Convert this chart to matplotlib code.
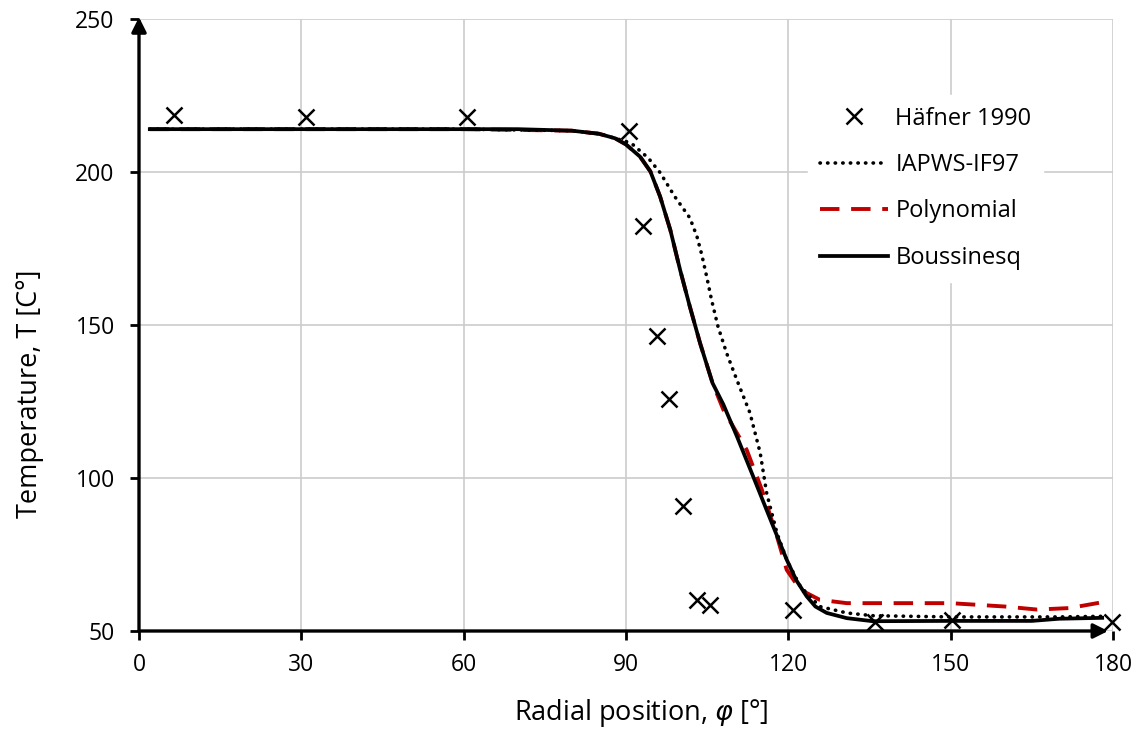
import matplotlib
matplotlib.use("Agg")
import matplotlib.pyplot as plt

# Häfner 1990 measurements
hafner_x = [6.4, 30.8, 60.6, 90.6, 93.1, 95.7, 98.0, 100.5, 103.1, 105.5, 120.8, 136.1, 150.3, 179.9]
hafner_T = [218.7, 218.1, 218.1, 213.5, 182.2, 146.3, 125.9, 90.7, 60.2, 58.4, 56.7, 52.8, 53.6, 53.0]

# IAPWS-IF97
iapws_x = [2, 30, 60, 80, 85, 88, 90, 91.3, 94.1, 96.3, 99, 101.8, 103.1, 104, 104.9, 105.8, 107,
           108.6, 110.5, 112.9, 114.8, 116, 117.9, 119.7, 122.2, 125.8, 130.8, 135.6, 150, 170, 178]
iapws_T = [214, 214, 214, 213.5, 212.5, 211, 210, 208.9, 204.6, 199.8, 192, 185, 179, 173, 165.9,
           158.3, 149.5, 140.8, 132, 121.3, 108.2, 95, 82, 73.3, 64.6, 58, 55.9, 55, 54.6, 54.6, 54.8]

# Polynomial
poly_x = [2, 30, 60, 80, 85, 88, 90, 92.6, 94.5, 96.3, 98.2, 100, 101.8, 103.7, 106, 108, 112.3,
          115.1, 117.9, 119.7, 122.2, 125.8, 130.8, 150, 160, 166, 172, 178]
poly_T = [214, 214, 214, 213.5, 212.5, 211, 209, 205, 200.2, 192, 181, 168, 156, 144, 131, 122.3,
          109.2, 96.2, 80.9, 70, 63.5, 60.2, 59.1, 59.1, 58, 57, 57.5, 59.4]

# Boussinesq
bous_x = [2, 10, 30, 50, 70, 80, 85, 88, 90, 92.6, 94.5, 96.3, 98.2, 100, 101.8, 103.7, 106, 108,
          110.5, 113.5, 117.2, 119.7, 121.5, 123.4, 125, 127.1, 130.8, 135.6, 150, 165, 170, 178]
bous_T = [214, 214, 214, 214, 214, 213.5, 212.5, 211, 209, 205, 200.2, 192, 181, 168, 156, 144,
          131, 124, 113.6, 100.5, 84.2, 73.3, 66.5, 61.3, 58, 55.9, 54.2, 53.2, 53.3, 53.3, 54.0, 54.3]

x_ticks = [0, 30, 60, 90, 120, 150, 180]
y_ticks = [50, 100, 150, 200, 250]

plt.rcParams['font.family'] = ['Open Sans', 'DejaVu Sans']
plt.rcParams['mathtext.fontset'] = 'dejavusans'

fig = plt.figure(figsize=(11.46, 7.32), dpi=100)
ax = fig.add_axes([139/1146, 1 - 631/732, (1113 - 139)/1146, (631 - 19)/732])

ax.plot(hafner_x, hafner_T, linestyle='none', marker='x', color='black',
        markersize=11, markeredgewidth=1.8, label='Häfner 1990', zorder=5, clip_on=False)
ax.plot(poly_x, poly_T, color='#C00000', lw=2.8, dashes=(5, 3), label='Polynomial', zorder=3)
ax.plot(iapws_x, iapws_T, color='black', lw=2.6, linestyle=(0, (0.1, 2.0)),
        dash_capstyle='round', label='IAPWS-IF97', zorder=3.5)
ax.plot(bous_x, bous_T, color='black', lw=2.7, label='Boussinesq', zorder=4)

ax.set_xlim(0, 180)
ax.set_ylim(50, 250)
ax.set_xticks(x_ticks)
ax.set_yticks(y_ticks)
ax.grid(True, color='#CCCCCC', lw=1.2, zorder=0)
ax.set_axisbelow(True)

for s in ['top', 'right', 'left', 'bottom']:
    ax.spines[s].set_visible(False)

ax.annotate('', xy=(0, 1.003), xytext=(0, 0), xycoords='axes fraction',
            arrowprops=dict(arrowstyle='-|>', lw=2.4, color='black', mutation_scale=22,
                            shrinkA=0, shrinkB=0), zorder=6)
ax.annotate('', xy=(0.995, 0), xytext=(0, 0), xycoords='axes fraction',
            arrowprops=dict(arrowstyle='-|>', lw=2.4, color='black', mutation_scale=22,
                            shrinkA=0, shrinkB=0), zorder=6)

ax.tick_params(axis='both', direction='out', length=6.5, width=2, color='black',
               labelsize=16.5)
ax.tick_params(axis='y', pad=11)
ax.tick_params(axis='x', pad=9)

ax.set_xlabel(r'Radial position, $\varphi$ [°]', fontsize=19.5)
ax.set_ylabel('Temperature, T [C°]', fontsize=19.5)
ax.xaxis.set_label_coords(0.516, -0.108)
ax.yaxis.set_label_coords(-0.098, 0.387)

handles, labels = ax.get_legend_handles_labels()
order = ['Häfner 1990', 'IAPWS-IF97', 'Polynomial', 'Boussinesq']
hd = dict(zip(labels, handles))
leg = ax.legend([hd[k] for k in order], order, loc='upper right',
                bbox_to_anchor=(1055/1146, 1 - 83/732), bbox_transform=fig.transFigure,
                fontsize=17, frameon=True, facecolor='white', edgecolor='white', framealpha=1,
                handlelength=2.9, labelspacing=0.95, handletextpad=0.3, borderpad=0.5)
leg.set_zorder(7)

fig.savefig('out.png', dpi=100)
